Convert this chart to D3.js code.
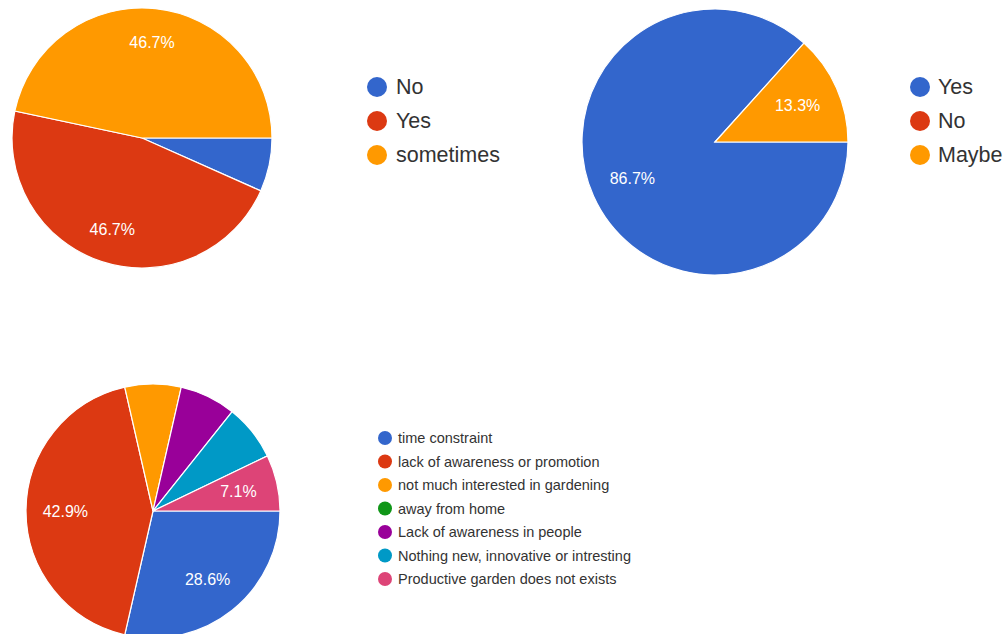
<!DOCTYPE html>
<html>
<head>
<meta charset="utf-8">
<script src="https://cdn.jsdelivr.net/npm/d3@7"></script>
<style>
  html, body { margin: 0; padding: 0; background: #fff; }
  svg { display: block; font-family: "Liberation Sans", Arial, sans-serif; }
</style>
</head>
<body>
<svg id="chart" width="1007" height="634"></svg>
<script>
// Survey answers (response counts)
const q1Categories = ["No", "Yes", "sometimes"];
const q1Values = [1, 7, 7];

const q2Categories = ["Yes", "No", "Maybe"];
const q2Values = [13, 0, 2];

const q3Categories = [
  "time constraint",
  "lack of awareness or promotion",
  "not much interested in gardening",
  "away from home",
  "Lack of awareness in people",
  "Nothing new, innovative or intresting",
  "Productive garden does not exists"
];
const q3Values = [4, 6, 1, 0, 1, 1, 1];

// Slices whose percentage is printed inside the pie
const q1Labelled = ["Yes", "sometimes"];
const q2Labelled = ["Yes", "Maybe"];
const q3Labelled = ["time constraint", "lack of awareness or promotion", "Productive garden does not exists"];

const palette = ["#3366cc", "#dc3912", "#ff9900", "#109618", "#990099", "#0099c6", "#dd4477"];

const svg = d3.select("#chart");

function drawPie(cfg) {
  const data = cfg.categories.map((c, i) => ({ name: c, value: cfg.values[i] }));
  const total = d3.sum(data, d => d.value);
  const color = d3.scaleOrdinal().domain(cfg.categories).range(palette);

  const pie = d3.pie()
    .sort(null)
    .value(d => d.value)
    .startAngle(Math.PI / 2)
    .endAngle(Math.PI / 2 + 2 * Math.PI);

  const arc = d3.arc().innerRadius(0).outerRadius(cfg.r);
  const labelArc = d3.arc().innerRadius(cfg.r * cfg.labelRatio).outerRadius(cfg.r * cfg.labelRatio);

  const g = svg.append("g").attr("transform", `translate(${cfg.cx},${cfg.cy})`);
  const arcs = pie(data);

  g.selectAll("path.slice")
    .data(arcs.filter(d => d.value > 0))
    .join("path")
    .attr("class", "slice")
    .attr("d", arc)
    .attr("fill", d => color(d.data.name))
    .attr("stroke", "#fff")
    .attr("stroke-width", 1.2);

  const fmt = d3.format(".1%");
  g.selectAll("text.pct")
    .data(arcs.filter(d => cfg.labelled.includes(d.data.name)))
    .join("text")
    .attr("class", "pct")
    .attr("transform", d => `translate(${labelArc.centroid(d)})`)
    .attr("text-anchor", "middle")
    .attr("dominant-baseline", "central")
    .attr("fill", "#fff")
    .attr("font-size", 16)
    .text(d => fmt(d.value / total));

  const lg = svg.append("g").attr("transform", `translate(${cfg.legend.x},${cfg.legend.y})`);
  const items = lg.selectAll("g.item")
    .data(cfg.categories)
    .join("g")
    .attr("class", "item")
    .attr("transform", (d, i) => `translate(0,${i * cfg.legend.step})`);
  items.append("circle")
    .attr("r", cfg.legend.dot)
    .attr("fill", d => color(d));
  items.append("text")
    .attr("x", cfg.legend.textDx)
    .attr("dominant-baseline", "central")
    .attr("fill", "#333")
    .attr("font-size", cfg.legend.fontSize)
    .text(d => d);
}

drawPie({
  categories: q1Categories, values: q1Values, labelled: q1Labelled,
  cx: 142, cy: 138, r: 130, labelRatio: 0.74,
  legend: { x: 377, y: 87, step: 34, dot: 10, textDx: 19, fontSize: 21.5 }
});

drawPie({
  categories: q2Categories, values: q2Values, labelled: q2Labelled,
  cx: 715, cy: 142, r: 133, labelRatio: 0.68,
  legend: { x: 920, y: 87, step: 34, dot: 10, textDx: 18, fontSize: 21.5 }
});

drawPie({
  categories: q3Categories, values: q3Values, labelled: q3Labelled,
  cx: 153, cy: 511, r: 127, labelRatio: 0.69,
  legend: { x: 385, y: 438, step: 23.5, dot: 7, textDx: 13, fontSize: 14.5 }
});
</script>
</body>
</html>
